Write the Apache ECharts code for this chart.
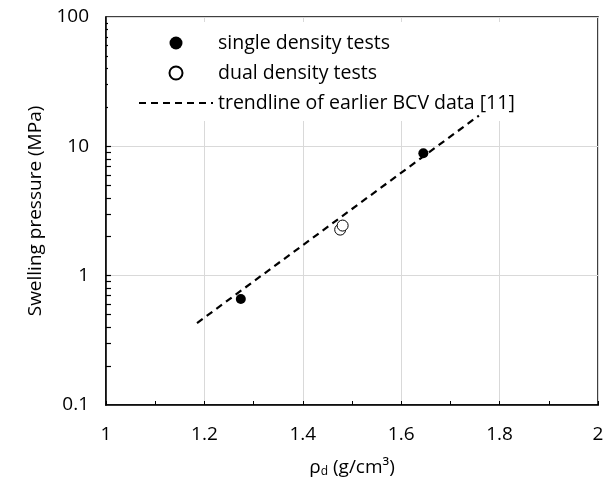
<!DOCTYPE html>
<html>
<head>
<meta charset="utf-8">
<script src="https://cdn.jsdelivr.net/npm/echarts@6/dist/echarts.min.js"></script>
<style>
  html, body { margin: 0; padding: 0; background: #fff; }
  #SwellingChart { width: 615px; height: 488px; }
</style>
</head>
<body>
<div id="SwellingChart"></div>
<script>
  // 数据
  var singleX = [1.274, 1.645];
  var singleY = [0.66, 8.85];
  var dualX = [1.476, 1.481];
  var dualY = [2.27, 2.44];
  var trendX = [1.185, 1.758];
  var trendY = [0.43, 17.3];

  var xTicks = [1, 1.2, 1.4, 1.6, 1.8, 2];
  var yTicks = [0.1, 1, 10, 100];
  var yMinor = [0.2, 0.3, 0.4, 0.5, 0.6, 0.7, 0.8, 0.9, 1, 2, 3, 4, 5, 6, 7, 8, 9, 10, 20, 30, 40, 50, 60, 70, 80, 90];

  var legendNames = ['single density tests', 'dual density tests', 'trendline of earlier BCV data [11]'];

  function pairs(xs, ys) {
    return xs.map(function (x, i) { return [x, ys[i]]; });
  }

  var font = 'Open Sans';
  var gridLeft = 106, gridRight = 17;
  var myChart = echarts.init(document.getElementById('SwellingChart'));

  myChart.setOption({
    animation: false,
    textStyle: { fontFamily: font },
    grid: {
      left: gridLeft, right: gridRight, top: 17, bottom: 83,
      show: true, borderColor: '#000', borderWidth: 1.5
    },
    legend: {
      data: [
        { name: legendNames[0] },
        { name: legendNames[1] },
        { name: legendNames[2], itemStyle: { opacity: 0 } }
      ],
      orient: 'vertical',
      left: 108,
      top: 22,
      padding: [11, 14, 8, 30],
      backgroundColor: '#fff',
      itemWidth: 74,
      itemHeight: 13,
      itemGap: 10,
      textStyle: { fontSize: 19.5, color: '#000', lineHeight: 20, fontFamily: font }
    },
    xAxis: {
      type: 'value',
      min: xTicks[0],
      max: xTicks[xTicks.length - 1],
      interval: 0.2,
      name: '{a|ρ}{b|d}{a| (g/cm³)}',
      nameLocation: 'middle',
      nameGap: 52,
      nameTextStyle: {
        rich: {
          a: { fontSize: 19, color: '#000', fontFamily: font },
          b: { fontSize: 12, color: '#000', fontFamily: font, padding: [9, 0, 0, 0] }
        }
      },
      axisLine: { onZero: false, lineStyle: { color: '#000', width: 1.5 } },
      axisTick: { show: true, inside: true, length: 4, lineStyle: { color: '#000' } },
      minorTick: { show: true, splitNumber: 2, length: 4, lineStyle: { color: '#000' } },
      splitLine: { show: true, lineStyle: { color: '#d9d9d9', width: 1 } },
      axisLabel: { fontSize: 19, color: '#000', margin: 20, fontFamily: font }
    },
    yAxis: [{
      type: 'log',
      logBase: 10,
      min: yTicks[0],
      max: yTicks[yTicks.length - 1],
      name: 'Swelling pressure (MPa)',
      nameLocation: 'middle',
      nameGap: 54,
      nameTextStyle: { fontSize: 19, color: '#000', fontFamily: font },
      axisLine: { show: true, onZero: false, lineStyle: { color: '#000', width: 1.5 } },
      axisTick: { show: false },
      splitLine: { show: true, lineStyle: { color: '#d9d9d9', width: 1 } },
      axisLabel: {
        fontSize: 19, color: '#000', margin: 17, fontFamily: font,
        formatter: function (v) { return String(+v.toPrecision(3)); }
      }
    }, {
      // 对数副刻度（每个数量级 2~9）：右侧轴挪到左边线上，刻度朝外即朝图内
      type: 'log',
      logBase: 10,
      min: yTicks[0],
      max: yTicks[yTicks.length - 1],
      position: 'right',
      offset: -(615 - gridLeft - gridRight),
      axisLine: { show: false, onZero: false },
      axisLabel: { show: false },
      splitLine: { show: false },
      axisTick: {
        show: true, inside: false, length: 5,
        lineStyle: { color: '#000', width: 1.2 },
        customValues: yMinor
      }
    }],
    series: [{
      name: legendNames[0],
      type: 'scatter',
      symbol: 'circle',
      symbolSize: 10,
      z: 6,
      itemStyle: { color: '#000', opacity: 1 },
      data: pairs(singleX, singleY)
    }, {
      name: legendNames[1],
      type: 'scatter',
      symbol: 'circle',
      symbolSize: 11,
      z: 6,
      itemStyle: { color: '#fff', borderColor: '#000', borderWidth: 1, opacity: 1 },
      data: pairs(dualX, dualY)
    }, {
      name: legendNames[2],
      type: 'line',
      symbol: 'none',
      z: 5,
      itemStyle: { color: '#000' },
      lineStyle: { color: '#000', width: 2.2, type: [7, 5] },
      data: pairs(trendX, trendY)
    }]
  });
</script>
</body>
</html>
